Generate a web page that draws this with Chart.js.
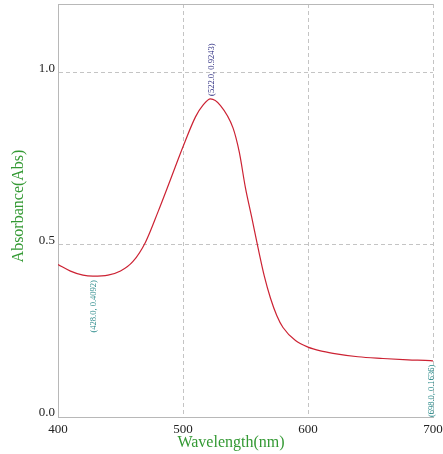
<!DOCTYPE html>
<html>
<head>
<meta charset="utf-8">
<script src="https://cdn.jsdelivr.net/npm/chart.js@4/dist/chart.umd.min.js"></script>
<style>
  html, body { margin: 0; padding: 0; background: #fff; }
  #wrap { width: 443px; height: 454px; }
</style>
</head>
<body>
<div id="wrap"><canvas id="myChart" width="443" height="454"></canvas></div>
<script>
// Spectrum
const wavelengths = [400, 410, 420, 428, 440, 450, 460, 470, 480, 490, 500, 510, 516, 522, 530, 540, 545, 550, 555, 560, 565, 570, 575, 580, 590, 600, 610, 620, 640, 660, 680, 698, 700];
const absorbance  = [0.443, 0.424, 0.412, 0.4092, 0.412, 0.424, 0.452, 0.508, 0.596, 0.690, 0.785, 0.872, 0.906, 0.9243, 0.905, 0.840, 0.770, 0.665, 0.580, 0.492, 0.410, 0.345, 0.295, 0.260, 0.222, 0.203, 0.192, 0.185, 0.175, 0.170, 0.166, 0.1636, 0.163];

// Picked points: wavelength, absorbance, where the label goes, colour
const markX     = [522.0, 428.0, 698.0];
const markY     = [0.9243, 0.4092, 0.1636];
const markSide  = ['above', 'below', 'below'];
const markColor = ['#2b2b80', '#2a8a8a', '#2a8a8a'];

const xTicks = [400, 500, 600, 700];
const yTicks = [0.0, 0.5, 1.0];

const serif = '"Liberation Serif", "DejaVu Serif", serif';

// Axis titles, top frame and the point labels
const extras = {
    id: 'extras',
    afterDraw(chart) {
        const c = chart.ctx;
        const area = chart.chartArea;
        const xs = chart.scales.x, ys = chart.scales.y;

        c.save();
        c.strokeStyle = '#b8b8b8';
        c.lineWidth = 1;
        c.beginPath();
        c.moveTo(area.left, area.top + 0.5);
        c.lineTo(area.right, area.top + 0.5);
        c.stroke();

        c.fillStyle = '#339933';
        c.font = '16px ' + serif;
        c.textAlign = 'center';
        c.textBaseline = 'middle';
        c.fillText('Wavelength(nm)', 231, 443);

        c.translate(19, 206);
        c.rotate(-Math.PI / 2);
        c.fillText('Absorbance(Abs)', 0, 0);
        c.restore();

        for (let i = 0; i < markX.length; i++) {
            const px = xs.getPixelForValue(markX[i]);
            const py = ys.getPixelForValue(markY[i]);
            const text = '(' + markX[i].toFixed(1) + ', ' + markY[i].toFixed(4) + ')';
            c.save();
            c.translate(px + 1, markSide[i] === 'above' ? py - 3 : py + 4);
            c.rotate(-Math.PI / 2);
            c.font = '8.5px ' + serif;
            c.fillStyle = markColor[i];
            c.textBaseline = 'middle';
            c.textAlign = markSide[i] === 'above' ? 'left' : 'right';
            c.fillText(text, 0, 0);
            c.restore();
        }
    }
};

const ctx = document.getElementById('myChart').getContext('2d');
const chart = new Chart(ctx, {
    type: 'line',
    data: {
        datasets: [{
            label: 'Absorbance',
            data: wavelengths.map((w, i) => ({x: w, y: absorbance[i]})),
            borderColor: '#cc2233',
            borderWidth: 1.2,
            pointRadius: 0,
            cubicInterpolationMode: 'monotone',
            fill: false
        }]
    },
    options: {
        responsive: false,
        animation: false,
        layout: { padding: { top: 4, right: 10, left: 0, bottom: 0 } },
        plugins: {
            legend: { display: false },
            tooltip: { enabled: false }
        },
        scales: {
            x: {
                type: 'linear',
                min: 400,
                max: 700,
                afterBuildTicks: s => { s.ticks = xTicks.map(v => ({value: v})); },
                afterFit: s => { s.height = 37; s.paddingLeft = 0; s.paddingRight = 0; },
                ticks: {
                    padding: 5,
                    color: '#222',
                    font: { family: serif, size: 13 },
                    maxRotation: 0
                },
                grid: {
                    color: '#c4c4c4',
                    drawTicks: false
                },
                border: { color: '#b8b8b8', dash: [4, 3] }
            },
            y: {
                min: 0,
                max: 1.2,
                afterBuildTicks: s => { s.ticks = yTicks.map(v => ({value: v})); },
                afterFit: s => { s.width = 58; s.paddingTop = 0; s.paddingBottom = 0; },
                ticks: {
                    padding: 3,
                    labelOffset: -4,
                    color: '#222',
                    font: { family: serif, size: 13 },
                    callback: v => Number(v).toFixed(1)
                },
                grid: {
                    color: '#c4c4c4',
                    drawTicks: false
                },
                border: { color: '#b8b8b8', dash: [4, 3] }
            }
        }
    },
    plugins: [extras]
});
</script>
</body>
</html>
